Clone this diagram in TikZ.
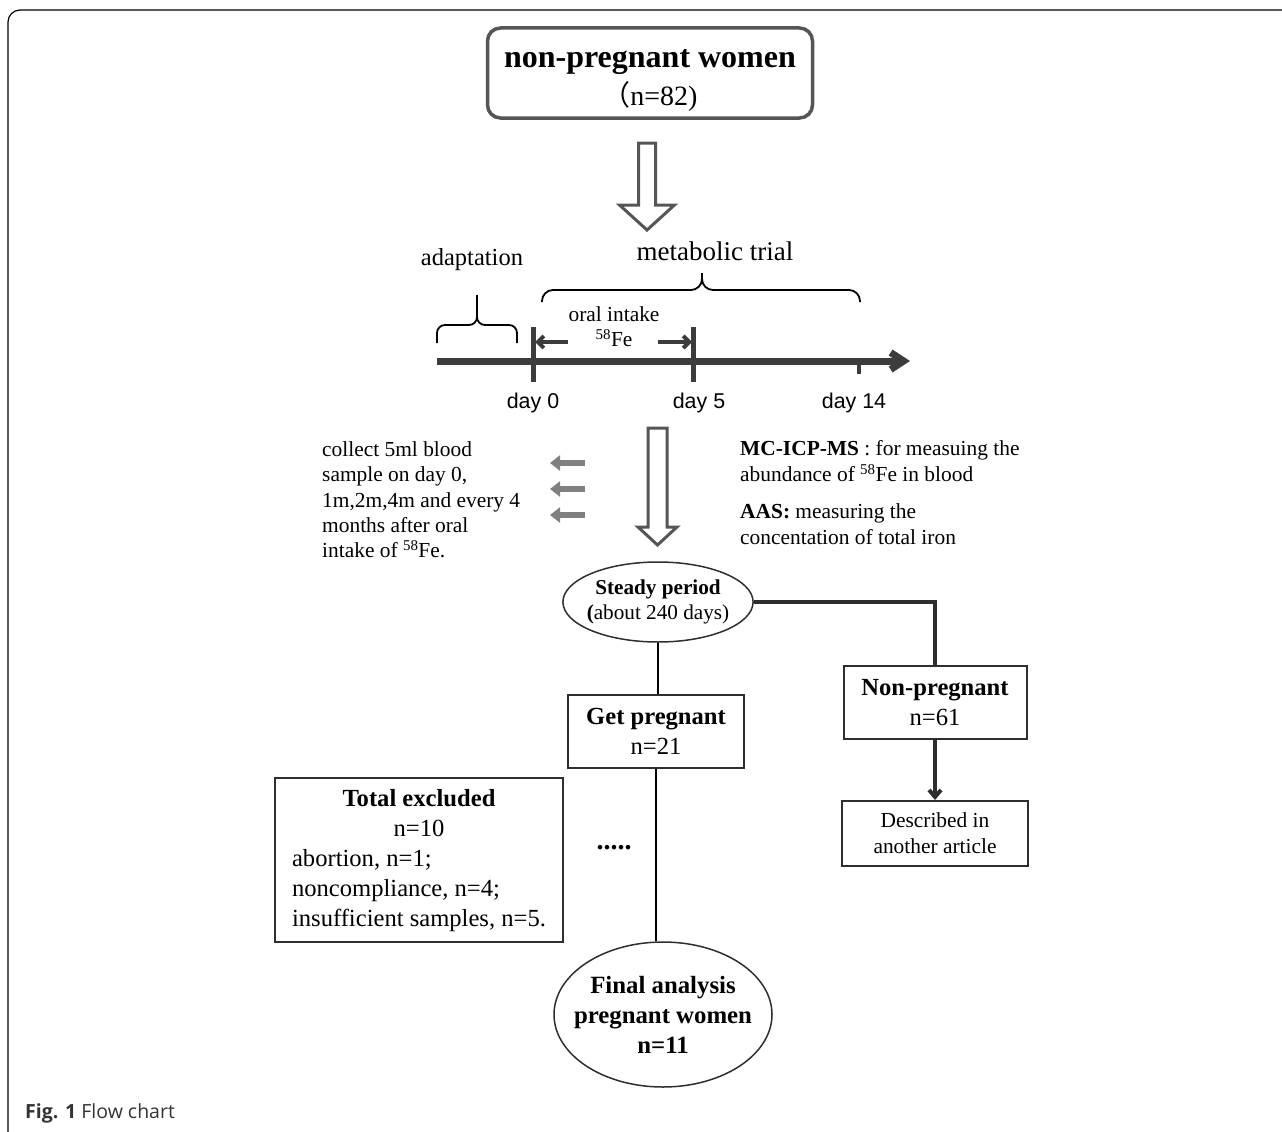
\documentclass[tikz,border=0pt]{standalone}
\usepackage{fontspec}
\setmainfont{Liberation Serif}
\setsansfont{Liberation Sans}
\newfontfamily\capfont{Open Sans}
\newfontfamily\cjk{Noto Sans CJK SC}
\usepackage{tikz}
\usetikzlibrary{shapes.geometric,arrows.meta,calc}
\definecolor{boxgray}{HTML}{555555}
\definecolor{linegray}{HTML}{3C3C3C}
\definecolor{pale}{HTML}{808080}
\definecolor{edge}{HTML}{2E2E2E}
\definecolor{capgray}{HTML}{333333}

\newcommand{\fsz}[2]{\fontsize{#1}{#2}\selectfont}

\begin{document}
\begin{tikzpicture}[x=1pt,y=-1pt,
    % define styles
    topbox/.style={
        draw=boxgray,
        line width=3.5pt,
        rounded corners=13pt,
        inner sep=0pt,
        minimum width=325pt,
        minimum height=90pt
    },
    sqbox/.style={
        draw=edge,
        line width=2pt,
        align=center,
        inner sep=0pt
    },
    oval/.style={
        draw=edge,
        ellipse,
        line width=1.5pt,
        align=center,
        inner sep=0pt
    },
    hollow/.style={draw=boxgray, line width=3pt, line join=miter},
    timeline/.style={draw=linegray, line width=7pt},
    daytick/.style={draw=linegray, line width=5pt},
    intake/.style={draw=linegray, line width=4pt, -{Straight Barb[length=6pt,width=12pt]}},
    sample/.style={draw=pale, line width=6pt, -{Triangle[length=10pt,width=15pt]}},
    curly/.style={draw=black, line width=1.8pt, rounded corners=8pt},
    link/.style={draw=black, line width=2.5pt},
    boldlink/.style={draw=edge, line width=4pt}
]
\useasboundingbox (0,0) rectangle (1282,1132);
% frame and caption
\draw[line width=1.2pt, rounded corners=12pt] (8,1140) -- (8,10) -- (1290,10);
\node[anchor=west, inner sep=0pt, text=capgray, font=\capfont\fsz{19.5}{22}] (caption) at (25,1113)
    {\textbf{Fig. 1} Flow chart};

% Start box and first hollow arrow
\node[topbox, label={[yshift=-7pt, align=center, font=\fsz{32}{38}]center:
    \textbf{non-pregnant women}\\{\fontsize{28}{38}\selectfont{\cjk （}n=82)}}] (women) at (650,73) {};
\coordinate (h1) at (647,143);
\draw[hollow] (h1) ++(-8.5,0) -- ++(0,62) -- ++(-19,0) -- ++(27.5,25)
    -- ++(27.5,-25) -- ++(-19,0) -- ++(0,-62) -- cycle;

% Time line
\coordinate (t0) at (437,361);
\coordinate (tend) at (910,361);
\coordinate (day0) at (533,361);
\coordinate (day5) at (693,361);
\coordinate (day14) at (859,361);
\draw[timeline, -{Straight Barb[length=13pt,width=17pt]}] (t0) -- (tend);
\draw[daytick] (day0) ++(0,-34) -- ++(0,55);
\draw[daytick] (day5) ++(0,-34) -- ++(0,55);
\draw[line width=4pt, linegray] (day14) -- ++(0,13);
\node[font=\sffamily\fsz{21.4}{24}] (d0) at (533,403) {day 0};
\node[font=\sffamily\fsz{21.4}{24}] (d5) at (699,403) {day 5};
\node[font=\sffamily\fsz{21.4}{24}] (d14) at (854,403) {day 14};

% oral intake between day 0 and day 5
\node[align=center, inner sep=0pt, font=\fsz{21.4}{25}] (oral) at (614,327)
    {oral intake\\\textsuperscript{58}Fe};
\draw[intake] ($(day0)+(35,-19)$) -- ($(day0)+(2,-19)$);
\draw[intake] ($(day5)+(-35,-19)$) -- ($(day5)+(-1,-19)$);

% Braces
\draw[curly] (437,343) -- (437,325) -- (477,325) -- (477,295);
\draw[curly] (517,343) -- (517,325) -- (477,325) -- (477,295);
\node[inner sep=0pt, font=\fsz{24.5}{28}] (adapt) at (472,260) {adaptation};
\draw[curly, rounded corners=11pt] (542,302) -- (542,290) -- (702,290) -- (702,273);
\draw[curly, rounded corners=11pt] (860,302) -- (860,290) -- (702,290) -- (702,273);
\node[inner sep=0pt, font=\fsz{27}{30}] (trial) at (715,251) {metabolic trial};

% Sampling and measuring
\node[anchor=west, align=left, inner sep=0pt, font=\fsz{21.4}{25.3}] (collect) at (322,500)
    {collect 5ml blood\\sample on day 0,\\1m,2m,4m and every 4\\months after oral\\intake of \textsuperscript{58}Fe.};
\draw[sample] (585,463) -- (550,463);
\draw[sample] (585,489) -- (550,489);
\draw[sample] (585,515) -- (550,515);
\coordinate (h2) at (657.5,428);
\draw[hollow] (h2) ++(-9.5,0) -- ++(0,99) -- ++(-10,0) -- ++(19.5,18)
    -- ++(19.5,-18) -- ++(-10,0) -- ++(0,-99) -- cycle;
\node[anchor=west, align=left, inner sep=0pt, font=\fsz{21.4}{26}] (measure) at (740,493)
    {\textbf{MC-ICP-MS} : for measuing the\\abundance of \textsuperscript{58}Fe in blood\\[11pt]
     \textbf{AAS:} measuring the\\concentation of total iron};

% Follow up
\node[oval, inner xsep=-4pt, minimum width=190pt, minimum height=80pt, font=\fsz{21.2}{25}] (steady) at (658,602)
    {\textbf{Steady period}\\\textbf{(}about 240 days)};
\node[sqbox, minimum width=176pt, minimum height=73pt, font=\fsz{24.6}{30}] (getpreg) at (656,731.5)
    {\textbf{Get pregnant}\\n=21};
\node[sqbox, minimum width=183pt, minimum height=73pt, font=\fsz{24.6}{30}] (nonpreg) at (935,702.5)
    {\textbf{Non-pregnant}\\n=61};
\node[sqbox, minimum width=186pt, minimum height=65pt, font=\fsz{21.4}{26}] (described) at (935,833.5)
    {Described in\\another article};
\node[sqbox, minimum width=288pt, minimum height=164pt, font=\fsz{24.6}{30}] (excluded) at (419,860)
    {\begin{tabular}{@{}l@{}}
     \multicolumn{1}{@{}c@{}}{\textbf{Total excluded}}\\
     \multicolumn{1}{@{}c@{}}{n=10}\\
     abortion, n=1;\\
     noncompliance, n=4;\\
     insufficient samples, n=5.
     \end{tabular}};
\node[inner sep=0pt, font=\fsz{28}{30}\bfseries] (dots) at (614,848) {.....};
\node[oval, inner xsep=-13pt, minimum width=218pt, minimum height=145pt, font=\fsz{24.8}{30}\bfseries] (final) at (663,1014.5)
    {Final analysis\\pregnant women\\n=11};

% Connectors
\draw[boldlink] (steady.east) -| (nonpreg.north);
\draw[link, line width=2.7pt] (steady.south) -- (steady.south |- getpreg.north);
\draw[boldlink, -{Straight Barb[length=7pt,width=12pt]}] (nonpreg.south) -- (described.north);
\draw[link] (getpreg.south) -- (getpreg.south |- final.north);
\end{tikzpicture}
\end{document}
